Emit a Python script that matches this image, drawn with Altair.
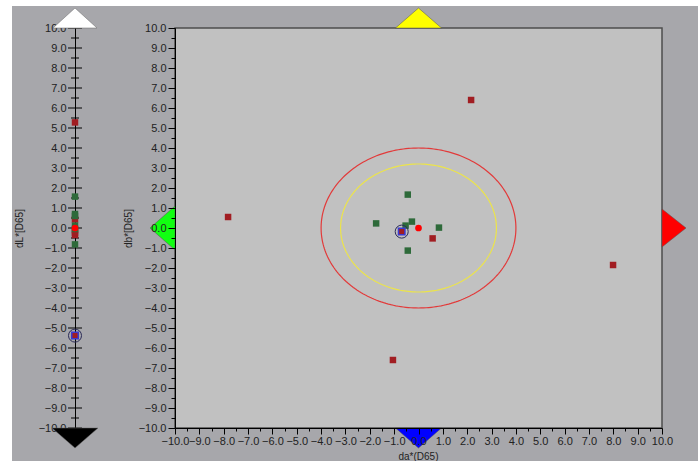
import numpy as np
import pandas as pd
import altair as alt

# --- colour-difference readings of each sample against the standard (D65) ---
# dark-red samples
red_da = [2.16, -7.82, 7.99, -1.05, 0.58]
red_db = [6.40, 0.55, -1.85, -6.60, -0.52]
red_dL = [0.43, -0.10, -0.23, 5.28, -0.35]

# green samples
green_da = [-0.44, -1.74, -0.53, -0.27, 0.84, -0.44]
green_db = [1.67, 0.23, 0.12, 0.32, 0.02, -1.13]
green_dL = [1.57, 0.70, 0.60, 0.12, -0.05, -0.82]

# highlighted (selected) sample
sel_da = [-0.69]
sel_db = [-0.18]
sel_dL = [-5.38]

# the standard itself
std_da = [0.0]
std_db = [0.0]
std_dL = [0.0]

# tolerance rings (radius in da*/db* units) and their colours
ring_radius = [4.0, 3.2]
ring_color = ["#e23a3a", "#ece44a"]

# axis ticks: labelled every 1.0, minor tick every 0.5
tick_values = [i / 2 for i in range(-20, 21)]
label_values = [float(i) for i in range(-10, 11)]

DARK_RED = "#a11d22"
GREEN = "#2e6a3a"
FONT = "Liberation Sans"

# ---------- scales (plot area starts 12px from the left, 6px from the top) ----------
XS = alt.Scale(domain=[-10, 10], range=[163, 650], nice=False, zero=False)
YS = alt.Scale(domain=[-10, 10], range=[422, 22], nice=False, zero=False)
PX = alt.Scale(domain=[-1, 1], range=[40, 86], nice=False, zero=False)

is_major = "datum.value == round(datum.value)"
int_label = f"{is_major} ? format(datum.value, '.1f') : ''"

AX_X = alt.Axis(
    orient="bottom", offset=-33, values=tick_values, labelExpr=int_label,
    tickSize={"condition": {"test": is_major, "value": 6}, "value": 3},
    labelPadding=1, labelOverlap=False, labelFlush=False, grid=False,
    domainColor="black", tickColor="black", labelColor="#222", labelFontSize=11,
    labelFont=FONT, title="da*(D65)", titleFont=FONT, titleFontSize=10,
    titleFontWeight="normal", titleColor="#222", titleX=406, titleY=28,
    titleAlign="center", titleBaseline="middle", zindex=1,
)
AX_Y = alt.Axis(
    orient="left", offset=-163, values=tick_values, labelExpr=int_label,
    tickSize={"condition": {"test": is_major, "value": 7}, "value": 4},
    labelPadding=2, labelOverlap=False, labelFlush=False, grid=False,
    domainColor="black", tickColor="black", labelColor="#222", labelFontSize=11,
    labelFont=FONT, title="db*[D65]", titleFont=FONT, titleFontSize=10,
    titleFontWeight="normal", titleColor="#222", titleX=-47, titleY=222,
    titleAngle=270, titleAlign="center", titleBaseline="middle", zindex=1,
)
AX_L = alt.Axis(
    orient="left", offset=-63, values=label_values, format=".1f", ticks=False,
    labelPadding=9, labelOverlap=False, labelFlush=False, grid=False,
    domainColor="black", labelColor="#222", labelFontSize=11, labelFont=FONT,
    title="dL*[D65]", titleFont=FONT, titleFontSize=10, titleFontWeight="normal",
    titleColor="#222", titleX=-56, titleY=222, titleAngle=270,
    titleAlign="center", titleBaseline="middle", zindex=0,
)


def xy_main():
    return dict(
        x=alt.X("da:Q", scale=XS, axis=AX_X),
        y=alt.Y("db:Q", scale=YS, axis=AX_Y),
    )


def xy_left():
    return dict(
        x=alt.X("pos:Q", scale=PX, axis=None),
        y=alt.Y("dL:Q", scale=YS, axis=AX_L),
    )


# ---------- data tables ----------
frame = pd.DataFrame({"da": [-10.0], "db": [-10.0], "da2": [10.0], "db2": [10.0]})

theta = np.linspace(0, 2 * np.pi, 241)
rings = pd.concat(
    [
        pd.DataFrame({"da": r * np.cos(theta), "db": r * np.sin(theta),
                      "i": np.arange(len(theta)), "ring": k, "col": c})
        for k, (r, c) in enumerate(zip(ring_radius, ring_color))
    ],
    ignore_index=True,
)

reds = pd.DataFrame({"da": red_da, "db": red_db, "dL": red_dL, "pos": 0.0})
greens = pd.DataFrame({"da": green_da, "db": green_db, "dL": green_dL, "pos": 0.0})
sel = pd.DataFrame({"da": sel_da, "db": sel_db, "dL": sel_dL, "pos": 0.0})
std = pd.DataFrame({"da": std_da, "db": std_db, "dL": std_dL, "pos": 0.0})

# direction markers at the ends of each axis
hue_markers = pd.DataFrame({
    "da": [0.0, 0.0, -10.0, 10.0],
    "db": [10.0, -10.0, 0.0, 0.0],
    "path": ["M -23 0 L 23 0 L 0 -20 Z", "M -23 0 L 23 0 L 0 20 Z",
             "M 0 -22 L 0 22 L -25 0 Z", "M 0 -19 L 0 19 L 24 0 Z"],
    "fill": ["#ffff00", "#0000ff", "#11ff11", "#ff0000"],
})
light_markers = pd.DataFrame({
    "dL": [10.0, -10.0],
    "pos": [0.0, 0.0],
    "path": ["M -22 0 L 22 0 L 0 -20 Z", "M -23 0 L 23 0 L 0 20 Z"],
    "fill": ["#ffffff", "#000000"],
})

left_ticks = pd.DataFrame({
    "dL": tick_values,
    "pos": 0.0,
    "len": [14 if v == round(v) else 8 for v in tick_values],
})

# ---------- da*/db* plane ----------
m_frame = alt.Chart(frame).mark_rect(fill="#c1c1c1", stroke="#4e4e4e", strokeWidth=1.5).encode(
    x2="da2:Q", y2="db2:Q", **xy_main()
)
m_rings = alt.Chart(rings).mark_line(strokeWidth=1.2).encode(
    detail="ring:N", order="i:Q", stroke=alt.Stroke("col:N", scale=None), **xy_main()
)
m_reds = alt.Chart(reds).mark_square(size=42, color=DARK_RED, opacity=1).encode(**xy_main())
m_greens = alt.Chart(greens).mark_square(size=42, color=GREEN, opacity=1).encode(**xy_main())
m_std = alt.Chart(std).mark_circle(size=45, color="#ff0000", opacity=1).encode(**xy_main())
m_sel = alt.Chart(sel).mark_square(
    size=42, fill=DARK_RED, stroke="#3a3ad0", strokeWidth=1.5, opacity=1
).encode(**xy_main())
m_sel_ring = alt.Chart(sel).mark_point(
    shape="circle", size=170, filled=False, stroke="#2c2c58", strokeWidth=1, opacity=1
).encode(**xy_main())
m_markers = alt.Chart(hue_markers).mark_point(
    filled=True, size=4, stroke="#555555", strokeWidth=0.5, opacity=1
).encode(
    shape=alt.Shape("path:N", scale=None), fill=alt.Fill("fill:N", scale=None), **xy_main()
)

plane = alt.layer(m_frame, m_rings, m_markers, m_greens, m_reds, m_std, m_sel, m_sel_ring)

# ---------- dL* strip ----------
l_ticks = alt.Chart(left_ticks).mark_tick(
    orient="horizontal", color="black", thickness=1, opacity=1
).encode(size=alt.Size("len:Q", scale=None), **xy_left())
l_reds = alt.Chart(reds).mark_square(size=42, color=DARK_RED, opacity=1).encode(**xy_left())
l_greens = alt.Chart(greens).mark_square(size=42, color=GREEN, opacity=1).encode(**xy_left())
l_std = alt.Chart(std).mark_circle(size=45, color="#ff0000", opacity=1).encode(**xy_left())
l_sel = alt.Chart(sel).mark_square(
    size=42, fill=DARK_RED, stroke="#3a3ad0", strokeWidth=1.5, opacity=1
).encode(**xy_left())
l_sel_ring = alt.Chart(sel).mark_point(
    shape="circle", size=170, filled=False, stroke="#2c2c58", strokeWidth=1, opacity=1
).encode(**xy_left())
l_markers = alt.Chart(light_markers).mark_point(
    filled=True, size=4, stroke="#666666", strokeWidth=0.5, opacity=1
).encode(
    shape=alt.Shape("path:N", scale=None), fill=alt.Fill("fill:N", scale=None), **xy_left()
)

strip = alt.layer(l_ticks, l_markers, l_reds, l_greens, l_std, l_sel, l_sel_ring)

chart = (
    alt.layer(plane, strip)
    .resolve_scale(x="independent", y="independent")
    .properties(
        width=686, height=455,
        autosize=alt.AutoSizeParams(type="none"),
        padding={"left": 12, "top": 6, "right": 0, "bottom": 0},
        background="white",
    )
    .configure_view(stroke=None, fill="#a7a7ab")
)

chart.save("out.html", embed_options={"renderer": "svg", "actions": False})
